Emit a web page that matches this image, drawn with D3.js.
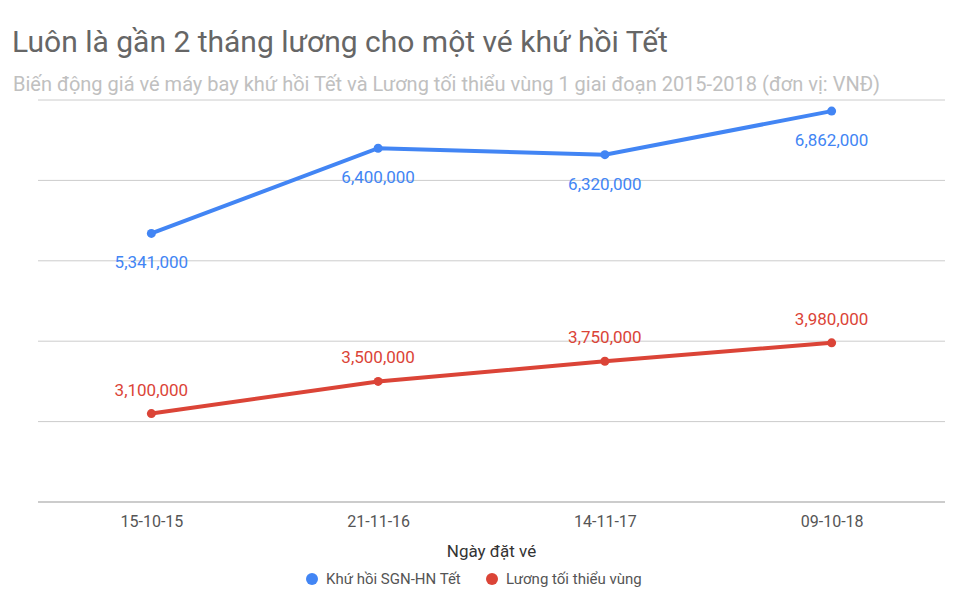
<!DOCTYPE html>
<html><head><meta charset="utf-8">
<script src="https://cdn.jsdelivr.net/npm/d3@7"></script>
<style>body{margin:0;background:#fff;font-family:Roboto,sans-serif}</style>
</head><body><div id="chart"></div>
<script>
var dates = ["15-10-15", "21-11-16", "14-11-17", "09-10-18"];
var veTet = [5341000, 6400000, 6320000, 6862000];
var luong = [3100000, 3500000, 3750000, 3980000];
var yTicks = [2000000, 3000000, 4000000, 5000000, 6000000, 7000000];

var width = 977, height = 604,
    plotLeft = 38, plotRight = 945, plotTop = 100, plotBottom = 502;

var svg = d3.select("#chart").append("svg")
  .attr("width", width).attr("height", height);

var x = d3.scalePoint().domain(dates).range([plotLeft, plotRight]).padding(0.5);
var y = d3.scaleLinear().domain([2000000, 7000000]).range([plotBottom, plotTop]);

svg.append("text").attr("x", 12).attr("y", 52).attr("font-size", 30)
  .attr("fill", "#666").text("Luôn là gần 2 tháng lương cho một vé khứ hồi Tết");
svg.append("text").attr("x", 13).attr("y", 91).attr("font-size", 20)
  .attr("fill", "#c0c0c0").text("Biến động giá vé máy bay khứ hồi Tết và Lương tối thiểu vùng 1 giai đoạn 2015-2018 (đơn vị: VNĐ)");

svg.selectAll(".grid").data(yTicks).enter().append("line")
  .attr("x1", plotLeft).attr("x2", plotRight)
  .attr("y1", function (d) { return y(d); }).attr("y2", function (d) { return y(d); })
  .attr("stroke", function (d, i) { return i == 0 ? "#999" : "#ccc"; })
  .attr("stroke-width", 1);

var xAxis = svg.append("g").attr("transform", "translate(0," + plotBottom + ")")
  .call(d3.axisBottom(x).tickSize(0).tickPadding(14));
xAxis.select(".domain").remove();
xAxis.selectAll("text").attr("font-size", 16).attr("fill", "#555").attr("font-family", "Roboto");

svg.append("text").attr("x", (plotLeft + plotRight) / 2).attr("y", 557).attr("text-anchor", "middle")
  .attr("font-size", 17).attr("fill", "#333").text("Ngày đặt vé");

var series = [
  { name: "Khứ hồi SGN-HN Tết", values: veTet, color: "#4285f4", dy: 35 },
  { name: "Lương tối thiểu vùng", values: luong, color: "#db4437", dy: -18 }
];
var fmt = d3.format(",");
var line = d3.line().x(function (d, i) { return x(dates[i]); }).y(function (d) { return y(d); });

series.forEach(function (s) {
  svg.append("path").attr("d", line(s.values)).attr("fill", "none")
    .attr("stroke", s.color).attr("stroke-width", 4);
  svg.selectAll(null).data(s.values).enter().append("circle")
    .attr("cx", function (d, i) { return x(dates[i]); }).attr("cy", function (d) { return y(d); })
    .attr("r", 4.5).attr("fill", s.color);
  svg.selectAll(null).data(s.values).enter().append("text")
    .attr("x", function (d, i) { return x(dates[i]); })
    .attr("y", function (d) { return y(d) + s.dy; })
    .attr("text-anchor", "middle").attr("font-size", 17).attr("fill", s.color)
    .text(function (d) { return fmt(d); });
});

var legX = [312, 492];
series.forEach(function (s, i) {
  svg.append("circle").attr("cx", legX[i]).attr("cy", 579).attr("r", 6).attr("fill", s.color);
  svg.append("text").attr("x", legX[i] + 14).attr("y", 584).attr("font-size", 15)
    .attr("fill", "#555").text(s.name);
});
</script></body></html>
